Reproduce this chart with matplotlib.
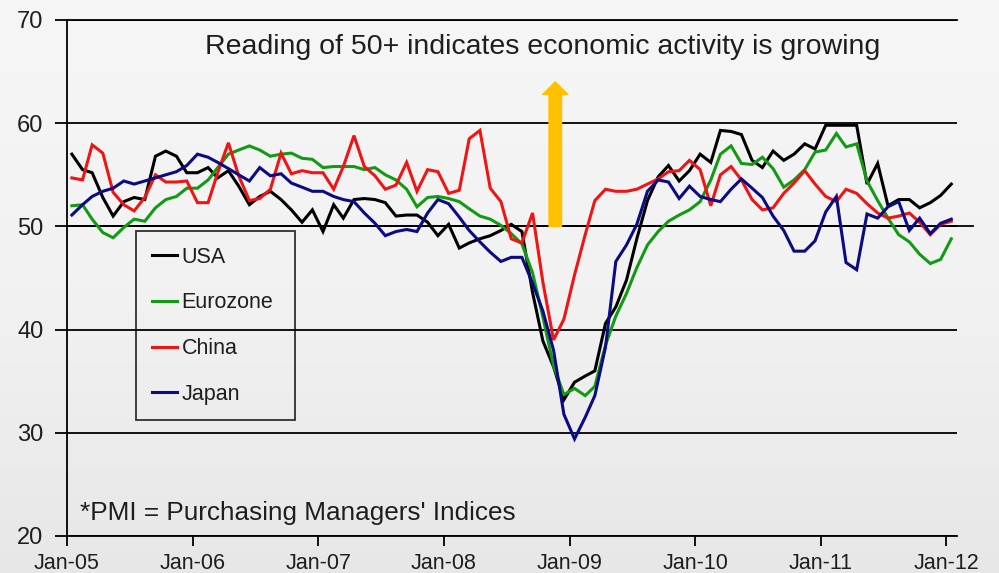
import matplotlib
matplotlib.use('Agg')
import matplotlib.pyplot as plt
import matplotlib.dates as mdates
from matplotlib.colors import LinearSegmentedColormap
import numpy as np
import pandas as pd

plt.rcParams['font.family'] = ['Liberation Sans', 'DejaVu Sans']

# Meses Jan-05 .. Jan-12 (puntos a mitad de mes)
fechas = pd.date_range('2005-01-01', periods=85, freq='MS') + pd.Timedelta(days=14)

usa = [57.0, 55.5, 55.2, 52.8, 51.0, 52.4, 52.8, 52.6, 56.8, 57.3, 56.8, 55.2,
       55.2, 55.7, 54.7, 55.4, 53.9, 52.1, 52.9, 53.4, 52.6, 51.6, 50.4, 51.6,
       49.5, 52.1, 50.8, 52.6, 52.7, 52.6, 52.3, 51.0, 51.1, 51.1, 50.4, 49.1,
       50.2, 47.9, 48.4, 48.8, 49.1, 49.6, 50.2, 49.5, 43.6, 38.9, 36.4, 33.2,
       34.9, 35.5, 36.0, 40.6, 42.2, 44.8, 48.8, 52.5, 54.8, 55.9, 54.4, 55.4,
       57.0, 56.2, 59.3, 59.2, 58.9, 56.4, 55.7, 57.3, 56.4, 57.0, 58.0, 57.5,
       59.8, 59.8, 59.8, 59.8, 54.1, 56.1, 52.0, 52.6, 52.6, 51.8, 52.3, 53.0,
       54.1]
eurozone = [52.0, 52.1, 50.7, 49.4, 48.9, 49.9, 50.7, 50.5, 51.8, 52.6, 52.9, 53.7,
            53.7, 54.5, 55.7, 57.0, 57.4, 57.8, 57.4, 56.8, 57.0, 57.1, 56.6, 56.5,
            55.7, 55.8, 55.8, 55.8, 55.5, 55.7, 55.0, 54.5, 53.6, 51.9, 52.8, 52.9,
            52.7, 52.4, 51.7, 51.0, 50.7, 50.1, 49.3, 48.3, 45.5, 41.2, 36.5, 33.7,
            34.3, 33.6, 34.5, 38.5, 41.3, 43.5, 46.0, 48.2, 49.5, 50.5, 51.1, 51.6,
            52.4, 54.5, 57.0, 57.8, 56.1, 56.0, 56.7, 55.6, 53.8, 54.5, 55.5, 57.2,
            57.4, 59.0, 57.7, 58.0, 54.4, 52.5, 50.8, 49.2, 48.5, 47.3, 46.4, 46.8,
            48.8]
china = [54.7, 54.5, 57.9, 57.1, 53.3, 52.1, 51.5, 52.8, 55.0, 54.3, 54.3, 54.4,
         52.3, 52.3, 55.2, 58.1, 54.9, 52.5, 52.7, 53.6, 57.1, 55.1, 55.4, 55.2,
         55.2, 53.6, 55.8, 58.8, 55.8, 54.9, 53.6, 54.0, 56.2, 53.4, 55.5, 55.3,
         53.2, 53.5, 58.5, 59.3, 53.7, 52.4, 48.8, 48.4, 51.3, 44.6, 39.0, 41.0,
         45.3, 49.2, 52.5, 53.6, 53.4, 53.4, 53.6, 54.1, 54.6, 55.3, 55.4, 56.4,
         55.5, 52.0, 55.0, 55.8, 54.5, 52.6, 51.6, 51.8, 53.2, 54.2, 55.4, 54.1,
         52.9, 52.4, 53.6, 53.2, 52.2, 51.3, 50.8, 51.0, 51.3, 50.4, 49.2, 50.2,
         50.5]
japan = [51.1, 52.1, 52.9, 53.4, 53.7, 54.4, 54.1, 54.4, 54.7, 55.0, 55.3, 55.9,
         57.0, 56.7, 56.2, 55.6, 55.0, 54.4, 55.7, 54.9, 55.1, 54.2, 53.8, 53.4,
         53.4, 52.9, 52.6, 52.4, 51.3, 50.3, 49.1, 49.5, 49.7, 49.5, 51.3, 52.6,
         52.2, 50.9, 49.6, 48.5, 47.5, 46.6, 47.0, 47.0, 44.5, 41.8, 38.0, 31.8,
         29.4, 31.5, 33.6, 38.3, 46.6, 48.2, 50.2, 53.4, 54.5, 54.3, 52.7, 53.9,
         52.9, 52.6, 52.4, 53.6, 54.6, 53.7, 52.8, 51.0, 49.6, 47.6, 47.6, 48.6,
         51.4, 52.9, 46.5, 45.8, 51.2, 50.8, 51.9, 52.4, 49.6, 50.8, 49.3, 50.3,
         50.7]

SERIES = [
    ('USA', usa, '#000000'),
    ('Eurozone', eurozone, '#139a13'),
    ('China', china, '#ee1515'),
    ('Japan', japan, '#0b0b82'),
]
COLOR_TEXTO = '#1e1e1e'

fig = plt.figure(figsize=(9.99, 5.73), dpi=100)

# Fondo gris degradado
bg = fig.add_axes([0, 0, 1, 1], zorder=-10)
cmap_bg = LinearSegmentedColormap.from_list('fondo', ['#f6f6f6', '#f2f2f2', '#e7e7e7'])
bg.imshow(np.linspace(0, 1, 256)[:, None], cmap=cmap_bg, aspect='auto',
          extent=[0, 1, 0, 1])
bg.axis('off')

ax = fig.add_axes([0.0671, 0.0646, 0.891, 0.9005])
ax.patch.set_alpha(0)

for nombre, valores, color in SERIES:
    ax.plot(fechas, valores, color=color, linewidth=2.2, label=nombre,
            solid_joinstyle='miter', zorder=3)

ax.set_ylim(20, 70)
ax.set_yticks([20, 30, 40, 50, 60, 70])
ax.set_xlim(pd.Timestamp('2005-01-01'), pd.Timestamp('2012-02-01'))
ax.xaxis.set_major_locator(mdates.YearLocator())
ax.xaxis.set_major_formatter(mdates.DateFormatter('%b-%y'))

ax.grid(axis='y', color='black', linewidth=1.3)
ax.grid(axis='x', visible=False)
ax.set_axisbelow(True)
for lado in ['left', 'bottom', 'top']:
    ax.spines[lado].set_color('black')
    ax.spines[lado].set_linewidth(1.3)
ax.spines['right'].set_visible(False)

# linea de 50 un poco mas larga
ax.axhline(50, xmin=0, xmax=1.018, color='black', linewidth=1.3, clip_on=False)

ax.tick_params(axis='y', length=9, width=1.3, pad=8, labelsize=17,
               labelcolor=COLOR_TEXTO)
ax.tick_params(axis='x', length=7, width=1.3, pad=5, labelsize=15.5,
               labelcolor=COLOR_TEXTO)

# Flecha amarilla
x_flecha = pd.Timestamp('2008-11-20')
ax.annotate('', xy=(x_flecha, 64.0), xytext=(x_flecha, 50),
            arrowprops=dict(arrowstyle='simple,head_length=0.5,head_width=1.0,tail_width=0.5',
                            mutation_scale=18, color='#ffc000',
                            shrinkA=0, shrinkB=0),
            zorder=5)

ax.text(0.534, 0.948, 'Reading of 50+ indicates economic activity is growing',
        transform=ax.transAxes, ha='center', va='center', fontsize=20.5,
        color=COLOR_TEXTO)
ax.text(0.0146, 0.045, "*PMI = Purchasing Managers' Indices",
        transform=ax.transAxes, ha='left', va='center', fontsize=18.8,
        color=COLOR_TEXTO)

leg = ax.legend(loc='upper left', bbox_to_anchor=(0.0775, 0.229, 0.1787, 0.362),
                mode='expand', borderaxespad=0, fontsize=15.5, handlelength=1.2,
                handletextpad=0.2, labelspacing=1.15, borderpad=0.72,
                fancybox=False, frameon=True)
leg.get_frame().set_edgecolor('black')
leg.get_frame().set_linewidth(1.3)
leg.get_frame().set_facecolor('none')
for t in leg.get_texts():
    t.set_color(COLOR_TEXTO)

fig.savefig('out.png', dpi=100)
